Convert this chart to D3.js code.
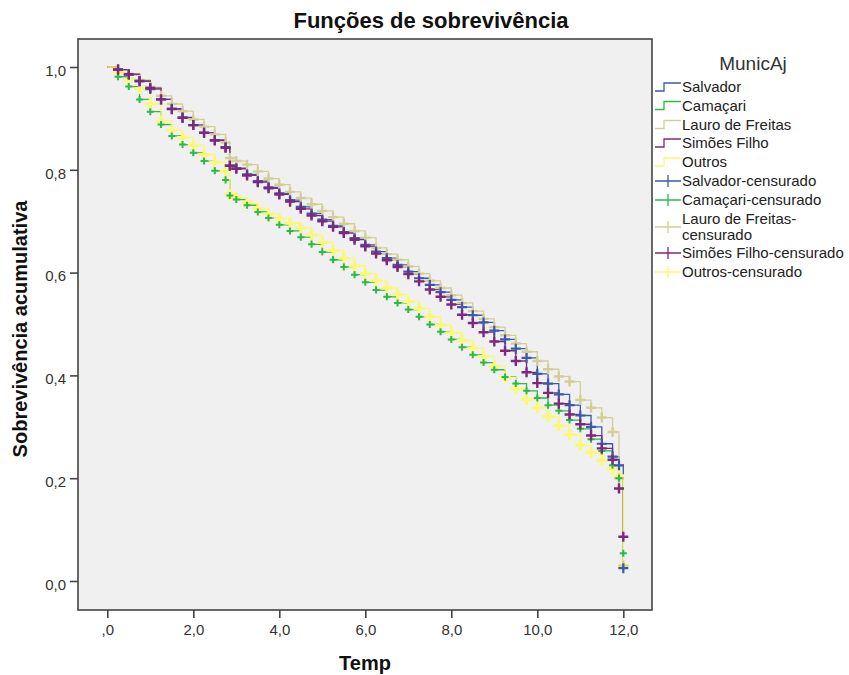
<!DOCTYPE html>
<html><head><meta charset="utf-8">
<script src="https://cdn.jsdelivr.net/npm/d3@7"></script>
<style>body{margin:0;background:#fff;}svg{display:block;}</style>
</head><body>
<svg id="chart" width="849" height="675"></svg>
<script>
const title = "Funções de sobrevivência";
const xTitle = "Temp";
const yTitle = "Sobrevivência acumulativa";
const legendTitle = "MunicAj";
const groups = ["Salvador","Camaçari","Lauro de Freitas","Simões Filho","Outros"];
const colors = ["#3E58AC","#2EB848","#D3CE97","#7C287D","#FBF873"];
const censLabels = ["Salvador-censurado","Camaçari-censurado","Lauro de Freitas-\ncensurado","Simões Filho-censurado","Outros-censurado"];
const xTicks = [0,2,4,6,8,10,12];
const xTickLabels = [",0","2,0","4,0","6,0","8,0","10,0","12,0"];
const yTicks = [0,0.2,0.4,0.6,0.8,1.0];
const yTickLabels = ["0,0","0,2","0,4","0,6","0,8","1,0"];

const times = [0,0.25,0.5,0.75,1,1.25,1.5,1.75,2,2.25,2.5,2.75,2.85,3,3.25,3.5,3.75,4,4.25,4.5,4.75,5,5.25,5.5,5.75,6,6.25,6.5,6.75,7,7.25,7.5,7.75,8,8.25,8.5,8.75,9,9.25,9.5,9.75,10,10.25,10.5,10.75,11,11.25,11.5,11.75,11.9,12];

const salvador = [1.000,0.995,0.985,0.972,0.957,0.937,0.919,0.902,0.887,0.872,0.858,0.844,0.808,0.803,0.791,0.778,0.766,0.754,0.741,0.728,0.715,0.703,0.691,0.679,0.667,0.654,0.641,0.628,0.615,0.602,0.589,0.576,0.562,0.547,0.533,0.517,0.503,0.487,0.470,0.452,0.434,0.403,0.384,0.363,0.342,0.322,0.300,0.267,0.242,0.225,0.025];
const camacari = [1.000,0.981,0.962,0.937,0.913,0.888,0.866,0.849,0.833,0.817,0.798,0.780,0.750,0.742,0.731,0.718,0.706,0.693,0.681,0.669,0.655,0.640,0.625,0.611,0.596,0.581,0.566,0.553,0.541,0.528,0.514,0.499,0.485,0.470,0.455,0.440,0.425,0.411,0.397,0.384,0.370,0.356,0.342,0.331,0.313,0.296,0.276,0.253,0.225,0.200,0.054];
const lauro = [1.000,0.995,0.987,0.975,0.961,0.944,0.928,0.914,0.898,0.884,0.869,0.853,0.823,0.817,0.810,0.797,0.783,0.771,0.757,0.745,0.733,0.720,0.708,0.695,0.681,0.668,0.648,0.636,0.625,0.612,0.598,0.584,0.570,0.556,0.541,0.525,0.510,0.494,0.478,0.462,0.446,0.428,0.412,0.398,0.388,0.352,0.337,0.318,0.290,0.200,0.030];
const simoes = [1.000,0.995,0.986,0.973,0.959,0.937,0.918,0.901,0.887,0.872,0.857,0.843,0.808,0.802,0.789,0.776,0.764,0.752,0.738,0.724,0.711,0.700,0.689,0.677,0.664,0.651,0.637,0.624,0.611,0.597,0.583,0.567,0.553,0.538,0.518,0.502,0.484,0.466,0.448,0.428,0.406,0.385,0.366,0.345,0.324,0.305,0.283,0.258,0.236,0.180,0.086];
const outros = [1.000,0.990,0.976,0.958,0.928,0.895,0.877,0.863,0.848,0.830,0.815,0.798,0.752,0.746,0.736,0.724,0.714,0.705,0.696,0.687,0.673,0.659,0.643,0.628,0.613,0.598,0.584,0.570,0.557,0.544,0.530,0.514,0.498,0.483,0.468,0.453,0.437,0.418,0.396,0.374,0.353,0.337,0.320,0.302,0.285,0.264,0.250,0.235,0.218,0.205,0.030];

const seriesValues = [salvador, camacari, lauro, simoes, outros];

const svg = d3.select("#chart");
const font = "'Liberation Sans', Arial, sans-serif";
const plot = {x0:78, y0:39, x1:652, y1:610};

const x = d3.scaleLinear().domain([0,12]).range([107.3, 623.3]);
const y = d3.scaleLinear().domain([0,1]).range([581, 67]);

svg.append("text").attr("x",431).attr("y",28).attr("text-anchor","middle")
  .attr("font-family",font).attr("font-weight","bold").attr("font-size",22).attr("fill","#111").text(title);

svg.append("rect").attr("x",plot.x0).attr("y",plot.y0).attr("width",plot.x1-plot.x0).attr("height",plot.y1-plot.y0)
  .attr("fill","#F0F0F0").attr("stroke","#444").attr("stroke-width",1.6);

const yAxis = d3.axisLeft(y).tickValues(yTicks).tickSize(8).tickPadding(4).tickFormat((d,i)=>yTickLabels[i]);
const gy = svg.append("g").attr("transform",`translate(${plot.x0},0)`).call(yAxis);
gy.select(".domain").remove();
gy.selectAll("line").attr("stroke","#444").attr("stroke-width",1.6);
gy.selectAll("text").attr("font-family",font).attr("font-size",15).attr("fill","#333").attr("dy","0.55em").attr("y",0);

const xAxis = d3.axisBottom(x).tickValues(xTicks).tickSize(8).tickPadding(6).tickFormat((d,i)=>xTickLabels[i]);
const gx = svg.append("g").attr("transform",`translate(0,${plot.y1})`).call(xAxis);
gx.select(".domain").remove();
gx.selectAll("line").attr("stroke","#444").attr("stroke-width",1.6);
gx.selectAll("text").attr("font-family",font).attr("font-size",15).attr("fill","#333");

svg.append("text").attr("x",365).attr("y",670).attr("text-anchor","middle")
  .attr("font-family",font).attr("font-weight","bold").attr("font-size",20).attr("fill","#111").text(xTitle);
svg.append("text").attr("transform","translate(27,329) rotate(-90)").attr("text-anchor","middle")
  .attr("font-family",font).attr("font-weight","bold").attr("font-size",20).attr("fill","#111").text(yTitle);

const line = d3.line().x(d=>x(d[0])).y(d=>y(d[1])).curve(d3.curveStepAfter);
const data = seriesValues.map(v => times.map((t,i)=>[t,v[i]]));
const gLines = svg.append("g");
data.forEach((d,i)=>{
  gLines.append("path").attr("d",line(d)).attr("fill","none").attr("stroke",colors[i]).attr("stroke-width",1.3);
});
const markSize = [5,3.5,5,5,5.5];
const markWidth = [2.2,2,2.4,2.4,3];
const markOrder = [4,2,1,0,3];
const gMarks = svg.append("g");
markOrder.forEach(i=>{
  const s = markSize[i];
  gMarks.append("g").selectAll("path").data(data[i].slice(1)).join("path")
    .attr("d",`M${-s},0H${s}M0,${-s}V${s}`)
    .attr("transform",d=>`translate(${x(d[0])},${y(d[1])})`)
    .attr("stroke",colors[i]).attr("stroke-width",markWidth[i]).attr("fill","none");
});

const lg = svg.append("g");
lg.append("text").attr("x",753).attr("y",70).attr("text-anchor","middle")
  .attr("font-family",font).attr("font-size",19).attr("fill","#333").text(legendTitle);
const rowsY = [87,105.5,124.5,143,162,181,200,227,253,272];
groups.forEach((g,i)=>{
  const cy = rowsY[i];
  lg.append("path").attr("d",`M655,${cy+4}H664V${cy-4}H681`).attr("fill","none").attr("stroke",colors[i]).attr("stroke-width",1.3);
  lg.append("text").attr("x",682).attr("y",cy+5).attr("font-family",font).attr("font-size",15).attr("fill","#222").text(g);
});
censLabels.forEach((g,i)=>{
  const cy = rowsY[5+i];
  lg.append("path").attr("d",`M655,${cy}H681M668,${cy-6}V${cy+6}`).attr("fill","none").attr("stroke",colors[i]).attr("stroke-width",1.3);
  const parts = g.split("\n");
  const t = lg.append("text").attr("font-family",font).attr("font-size",15).attr("fill","#222");
  parts.forEach((p,k)=>{
    t.append("tspan").attr("x",682).attr("y",cy+5+(k-(parts.length-1)/2)*16).text(p);
  });
});
</script>
</body></html>
